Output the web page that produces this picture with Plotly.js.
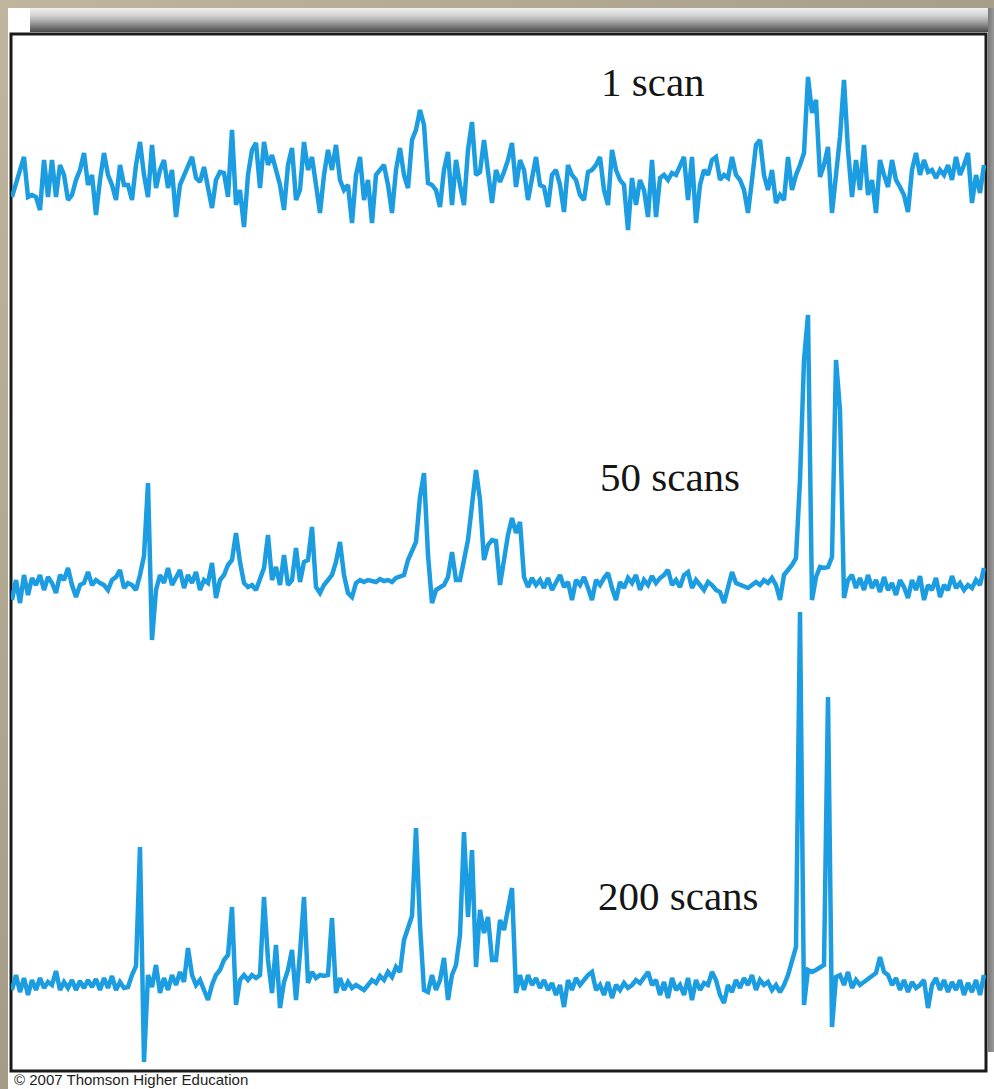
<!DOCTYPE html>
<html>
<head>
<meta charset="utf-8">
<script src="https://cdn.plot.ly/plotly-3.0.1.min.js"></script>
<style>
  html, body { margin: 0; padding: 0; }
  body { width: 994px; height: 1089px; position: relative; overflow: hidden;
         background: linear-gradient(135deg, #c0b69e 0%, #a69d89 50%, #8c8575 100%); }
  #slide { position: absolute; left: 8px; top: 8px; width: 986px; height: 1081px; background: #ffffff; z-index: 0; }
  #chart { position: absolute; left: 0; top: 0; width: 994px; height: 1089px; z-index: 1; }
  #shadowTop { position: absolute; left: 30px; top: 8px; width: 964px; height: 24px; z-index: 2;
               background: linear-gradient(to bottom, #eeeeee 0%, #d4d4d4 30%, #a0a0a0 60%, #6a6a6a 85%, #4a4a4a 100%); }
  #shadowRight { position: absolute; left: 988px; top: 8px; width: 6px; height: 1044px; z-index: 2;
                 background: linear-gradient(to right, #7a7a7a, #9a9a9a); }
</style>
</head>
<body>
<div id="slide"></div>
<div id="chart"></div>
<div id="shadowTop"></div>
<div id="shadowRight"></div>
<script>
// Signal intensity (relative to each trace's baseline), evenly spaced spectrum samples
const scan1 = [
  -19,-5,11,21,-19,-17,-19,-32,18,-19,18,-19,13,3,-22,-17,-2,8,25,-7,
  3,-37,-2,25,3,-7,-22,13,-7,-7,-22,13,36,3,-19,33,-10,8,18,-10,
  8,-39,-7,3,13,21,0,-4,11,-7,-30,-2,6,5,-19,48,-27,-12,-49,3,
  28,35,-10,36,13,23,6,-7,-32,13,30,-22,-12,36,8,21,-7,-35,3,28,
  8,33,-2,-12,-7,-45,3,21,-22,-2,-45,3,8,13,-7,-35,8,30,3,-10,
  38,48,68,53,-5,-7,-12,-29,8,26,-27,18,-7,-27,28,56,3,6,38,8,
  -25,8,-4,6,18,35,-9,18,8,-22,3,21,-7,-9,-29,3,8,-7,-34,13,
  3,-2,-17,-22,6,8,13,21,-12,-27,28,8,-2,-7,-52,0,-27,-2,-12,-39,
  18,-39,0,3,-2,5,3,13,21,-22,21,-45,-7,8,3,18,21,-2,3,0,
  21,3,-2,-12,-35,-2,33,38,3,-12,8,-25,-17,-22,21,-12,3,13,25,101,
  65,78,1,13,31,-35,8,41,98,28,-19,18,-12,33,-17,-2,-35,18,3,-9,
  18,-2,-9,-17,-34,8,25,3,18,6,8,0,8,3,13,-2,21,3,13,25,
  -25,3,-15,13
];
const scan50 = [
  -17,3,-20,8,-12,5,-2,8,-7,6,0,-10,8,3,15,-2,-14,-2,0,11,
  -2,3,0,-2,-7,3,6,13,-5,0,-2,-7,8,27,100,-57,-7,8,0,15,
  -2,5,13,-5,8,0,11,-7,3,0,20,-15,3,8,18,23,50,21,0,-4,
  -2,-7,3,15,48,3,16,-2,28,-2,3,35,1,21,23,56,-4,-10,-2,3,
  8,21,41,8,-10,-14,0,3,1,3,2,1,4,2,3,1,5,7,8,23,
  33,41,86,110,28,-20,-7,-5,-2,6,31,3,3,23,43,78,113,83,23,38,
  43,42,-2,23,48,65,50,61,6,-4,5,-2,3,-5,5,-7,1,8,-4,1,
  -17,3,-2,6,-5,-17,3,-2,5,10,-5,-17,1,-5,5,0,8,-7,3,-2,
  7,0,5,8,13,-2,3,-4,8,11,-5,3,-2,-7,1,-2,-7,-9,-20,-2,
  11,0,-2,-4,-5,-2,1,-2,3,0,5,-2,-17,8,13,18,25,103,223,268,
  -17,6,16,15,16,26,223,173,-15,3,8,-5,5,-7,8,-5,3,-9,6,-7,
  0,-12,3,-4,-15,3,-7,7,-17,-2,-7,5,-14,-2,-7,7,-5,0,-7,-2,
  -5,3,-2,15
];
const scan200 = [
  -5,10,-7,7,-10,5,-5,7,-3,3,0,14,-5,3,-3,5,-5,4,-3,5,
  -2,6,-5,7,-3,9,-5,3,-3,-2,10,19,138,-77,10,-2,20,-8,7,-5,
  10,0,13,3,37,10,0,5,-5,-15,0,10,15,25,30,78,-20,5,10,5,
  10,7,10,88,25,-8,40,-23,3,15,35,-15,32,88,2,13,7,10,9,10,
  67,-8,7,-5,3,-3,0,-2,-5,0,5,2,9,5,13,8,18,13,45,57,
  69,157,60,-5,-7,10,-5,5,27,-15,10,20,50,153,68,135,18,75,52,68,
  25,25,65,55,75,97,-8,10,-5,10,0,7,-3,5,-5,2,-10,0,-22,5,
  -5,7,0,5,10,13,-5,0,-10,3,-13,0,-5,2,-3,0,5,2,7,13,
  0,5,-10,3,-13,7,-5,0,-10,7,-15,5,-5,2,0,13,5,-10,-18,0,
  -7,5,-3,7,0,10,-5,5,0,3,-5,0,-7,0,10,25,38,373,-20,15,
  13,15,17,20,288,-42,8,10,0,13,-3,5,0,3,7,9,12,28,13,10,
  0,7,-5,5,-7,3,-3,0,5,-23,0,7,-5,5,-7,3,-5,5,-10,2,
  -7,5,-10,10
];
const traceLabels = ["1 scan", "50 scans", "200 scans"];
const credit = "\u00a9 2007 Thomson Higher Education";

const blue = "#1c9de2";
const lineStyle = { color: blue, width: 4.5 };

const data = [
  { y: scan1, xaxis: "x", yaxis: "y", mode: "lines", line: lineStyle, hoverinfo: "skip" },
  { y: scan50, xaxis: "x", yaxis: "y2", mode: "lines", line: lineStyle, hoverinfo: "skip" },
  { y: scan200, xaxis: "x", yaxis: "y3", mode: "lines", line: lineStyle, hoverinfo: "skip" }
];

const hidden = { visible: false, fixedrange: true, showgrid: false, zeroline: false };
const serif = { family: "Liberation Serif, 'Times New Roman', serif", size: 41, color: "#151515" };

const layout = {
  width: 994, height: 1089,
  margin: { l: 11, r: 8, t: 34, b: 18, pad: 0 },
  paper_bgcolor: "rgba(0,0,0,0)",
  plot_bgcolor: "rgba(0,0,0,0)",
  showlegend: false,
  xaxis: Object.assign({ range: [-0.25, 243.5] }, hidden),
  yaxis: Object.assign({ domain: [0.7869, 0.9798], range: [-77, 123] }, hidden),
  yaxis2: Object.assign({ domain: [0.3915, 0.7483], range: [-82, 288] }, hidden),
  yaxis3: Object.assign({ domain: [0, 0.4638], range: [-86, 395] }, hidden),
  shapes: [
    { type: "rect", xref: "paper", yref: "paper", x0: 0, x1: 1, y0: 0, y1: 1,
      fillcolor: "#ffffff", line: { color: "#1a1a1a", width: 3 }, layer: "below" }
  ],
  annotations: [
    { text: traceLabels[0], xref: "paper", yref: "paper", x: 0.603, y: 0.9535,
      xanchor: "left", yanchor: "middle", showarrow: false, font: serif },
    { text: traceLabels[1], xref: "paper", yref: "paper", x: 0.602, y: 0.5725,
      xanchor: "left", yanchor: "middle", showarrow: false, font: serif },
    { text: traceLabels[2], xref: "paper", yref: "paper", x: 0.600, y: 0.1685,
      xanchor: "left", yanchor: "middle", showarrow: false, font: serif },
    { text: credit, xref: "paper", yref: "paper", x: 0.001, y: -0.0085,
      xanchor: "left", yanchor: "middle", showarrow: false,
      font: { family: "Liberation Sans, Arial, sans-serif", size: 15, color: "#1e1e1e" } }
  ]
};

Plotly.newPlot("chart", data, layout, { staticPlot: true, displayModeBar: false });
</script>
</body>
</html>
